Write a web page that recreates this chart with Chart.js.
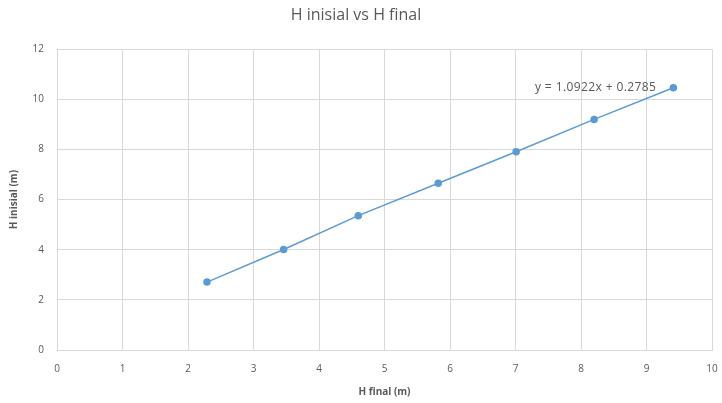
<!DOCTYPE html>
<html>
<head>
<meta charset="utf-8">
<script src="https://cdn.jsdelivr.net/npm/chart.js@4/dist/chart.umd.min.js"></script>
<style>
  html, body { margin: 0; padding: 0; background: #ffffff; }
  #wrap { width: 722px; height: 403px; position: relative; }
</style>
</head>
<body>
<div id="wrap"><canvas id="c" width="722" height="403"></canvas></div>
<script>
// Data
const hFinal   = [2.29, 3.46, 4.60, 5.82, 7.01, 8.20, 9.41];
const hInisial = [2.71, 4.01, 5.36, 6.65, 7.91, 9.20, 10.46];
const trendSlope = 1.0922;
const trendIntercept = 0.2785;
const chartTitle = 'H inisial vs H final';
const xTitle = 'H final (m)';
const yTitle = 'H inisial (m)';
const xTickMin = 0, xTickMax = 10, xTickStep = 1;
const yTickMin = 0, yTickMax = 12, yTickStep = 2;

const points = hFinal.map((x, i) => ({ x: x, y: hInisial[i] }));
const eqText = 'y = ' + trendSlope.toFixed(4) + 'x + ' + trendIntercept.toFixed(4);

const txt = '#595959';
const gridCol = '#d9d9d9';
const blue = '#5B9BD5';
const fam = '"Open Sans", "Liberation Sans", sans-serif';

const eqPlugin = {
  id: 'eqLabel',
  afterDatasetsDraw(chart) {
    const { ctx, scales } = chart;
    const px = scales.x.getPixelForValue(9.15);
    const py = scales.y.getPixelForValue(10.45);
    ctx.save();
    ctx.font = '12px ' + fam;
    if ('letterSpacing' in ctx) ctx.letterSpacing = '0.4px';
    ctx.fillStyle = txt;
    ctx.textAlign = 'right';
    ctx.textBaseline = 'middle';
    ctx.fillText(eqText, px, py);
    ctx.restore();
  }
};

new Chart(document.getElementById('c'), {
  type: 'scatter',
  data: {
    datasets: [{
      data: points,
      showLine: true,
      borderColor: blue,
      backgroundColor: blue,
      borderWidth: 1.5,
      pointRadius: 3,
      pointHoverRadius: 3,
      pointBackgroundColor: blue,
      pointBorderColor: blue,
      tension: 0
    }]
  },
  options: {
    responsive: false,
    animation: false,
    devicePixelRatio: 1,
    layout: { padding: { left: 0, right: 10, top: 0, bottom: 0 } },
    plugins: {
      legend: { display: false },
      tooltip: { enabled: false },
      title: {
        display: true,
        text: chartTitle,
        color: txt,
        font: { family: fam, size: 16, weight: 'normal' },
        padding: { top: 6, bottom: 24 }
      }
    },
    scales: {
      x: {
        type: 'linear',
        min: xTickMin, max: xTickMax,
        ticks: { stepSize: xTickStep, color: txt, font: { family: fam, size: 10 }, padding: 13, maxRotation: 0 },
        grid: { color: gridCol, lineWidth: 1, drawTicks: false },
        border: { color: gridCol, width: 1 },
        title: { display: true, text: xTitle, color: txt, font: { family: fam, size: 10, weight: 'bold' }, padding: { top: 0, bottom: 4.5 } },
        afterFit(s) { s.height = 53; s.paddingRight = 0; s.paddingLeft = 0; }
      },
      y: {
        type: 'linear',
        min: yTickMin, max: yTickMax,
        ticks: { stepSize: yTickStep, color: txt, font: { family: fam, size: 10 }, padding: 13 },
        grid: { color: gridCol, lineWidth: 1, drawTicks: false },
        border: { color: gridCol, width: 1 },
        title: { display: true, text: yTitle, color: txt, font: { family: fam, size: 10, weight: 'bold' }, padding: { top: 8.5, bottom: 0 } },
        afterFit(s) { s.width = 57; s.paddingTop = 0; s.paddingBottom = 0; }
      }
    }
  },
  plugins: [eqPlugin]
});
</script>
</body>
</html>
